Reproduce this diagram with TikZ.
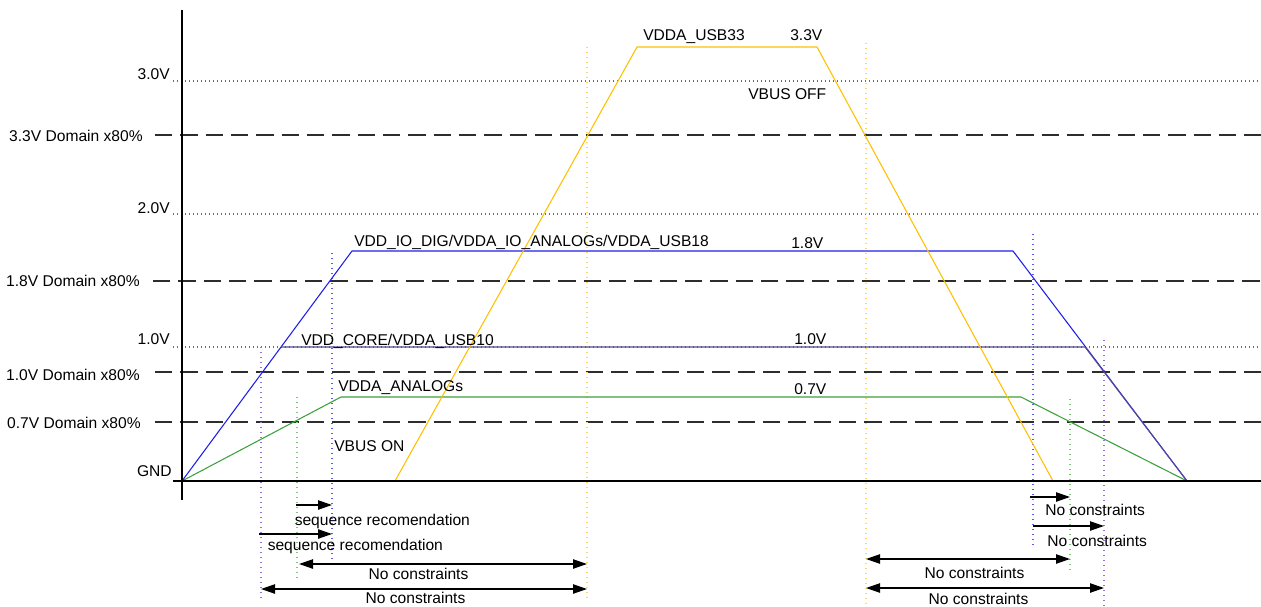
\documentclass[tikz,border=0pt]{standalone}
\usepackage{fontspec}
\setmainfont{Liberation Sans}
\usetikzlibrary{arrows.meta}
\definecolor{usbc}{RGB}{255,192,0}
\definecolor{ioc}{RGB}{30,30,235}
\definecolor{corec}{RGB}{85,75,145}
\definecolor{anac}{RGB}{60,160,60}
\definecolor{dashc}{RGB}{45,45,45}
\definecolor{dotc}{RGB}{110,110,110}
\definecolor{vpur}{RGB}{150,110,220}
\definecolor{vgrn}{RGB}{120,200,120}
\definecolor{vblu}{RGB}{90,90,240}
\definecolor{vgold}{RGB}{255,215,90}
\begin{document}
\begin{tikzpicture}[x=0.75pt,y=-0.75pt,
  font=\fontsize{11.7}{14}\selectfont,
  lbl/.style={inner sep=0pt, anchor=base west},
  rlbl/.style={inner sep=0pt, anchor=base east},
  clbl/.style={inner sep=0pt, anchor=base},
  domln/.style={dashc, line width=1pt, dash pattern=on 13pt off 6pt},
  refln/.style={dotc, line width=0.8pt, dash pattern=on 0.75pt off 2.25pt},
  vmark/.style={line width=0.8pt, dash pattern=on 0.75pt off 3pt},
  curve/.style={line width=0.8pt, line join=miter},
  arr/.style={line width=1pt, -{Triangle[length=10.5pt,width=7pt]}},
  darr/.style={line width=1pt, {Triangle[length=10.5pt,width=7pt]}-{Triangle[length=10.5pt,width=7pt]}}
]
\useasboundingbox (0,0) rectangle (1261,607);

% ---- reference level lines ----
\coordinate (l30a) at (173,81);  \coordinate (l30b) at (1261,81);
\coordinate (d33a) at (155,135); \coordinate (d33b) at (1261,135);
\coordinate (l20a) at (173,214); \coordinate (l20b) at (1261,214);
\coordinate (d18a) at (153,281); \coordinate (d18b) at (1261,281);
\coordinate (l10a) at (173,347); \coordinate (l10b) at (1261,347);
\coordinate (d10a) at (155,372); \coordinate (d10b) at (1261,372);
\coordinate (d07a) at (155,422); \coordinate (d07b) at (1261,422);
\draw[refln] (l30a) -- (l30b);
\draw[refln] (l20a) -- (l20b);
\draw[refln] (l10a) -- (l10b);
\draw[domln] (d33a) -- (d33b);
\draw[domln] (d18a) -- (d18b);
\draw[domln] (d10a) -- (d10b);
\draw[domln] (d07a) -- (d07b);

\node[rlbl] (t30) at (170,79) {3.0V};
\node[rlbl] (t33d) at (143,141.5) {3.3V Domain x80\%};
\node[rlbl] (t20) at (170,213) {2.0V};
\node[rlbl] (t18d) at (140,286.5) {1.8V Domain x80\%};
\node[rlbl] (t10) at (170,344) {1.0V};
\node[rlbl] (t10d) at (140,380.5) {1.0V Domain x80\%};
\node[rlbl] (t07d) at (141,428) {0.7V Domain x80\%};
\node[rlbl] (tgnd) at (172,476.5) {GND};

% ---- vertical timing markers ----
\coordinate (vp1a) at (261,347);  \coordinate (vp1b) at (261,598);
\coordinate (vg1a) at (297,397);  \coordinate (vg1b) at (297,581);
\coordinate (vb1a) at (332,253);  \coordinate (vb1b) at (332,560);
\coordinate (vy1a) at (587,47);   \coordinate (vy1b) at (587,599);
\coordinate (vy2a) at (866,43);   \coordinate (vy2b) at (866,607);
\coordinate (vb2a) at (1033,234); \coordinate (vb2b) at (1033,548);
\coordinate (vg2a) at (1070,399); \coordinate (vg2b) at (1070,573);
\coordinate (vp2a) at (1104,340); \coordinate (vp2b) at (1104,607);
\draw[vmark,vpur]  (vp1a) -- (vp1b);
\draw[vmark,vgrn]  (vg1a) -- (vg1b);
\draw[vmark,vblu]  (vb1a) -- (vb1b);
\draw[vmark,vgold] (vy1a) -- (vy1b);
\draw[vmark,vgold] (vy2a) -- (vy2b);
\draw[vmark,vblu]  (vb2a) -- (vb2b);
\draw[vmark,vgrn]  (vg2a) -- (vg2b);
\draw[vmark,vpur]  (vp2a) -- (vp2b);

% ---- supply curves ----
\coordinate (o0) at (182,481);
\coordinate (io1) at (352,251);  \coordinate (io2) at (1013,251); \coordinate (io3) at (1187,481);
\coordinate (co1) at (281,347);  \coordinate (co2) at (1085,347);
\coordinate (an1) at (341,397);  \coordinate (an2) at (1021,397);
\coordinate (us0) at (395,481);  \coordinate (us1) at (637,47); \coordinate (us2) at (817,47); \coordinate (us3) at (1053,481);

\draw[curve,anac] (o0) -- (an1) -- (an2) -- (io3);
\draw[curve,ioc]  (o0) -- (io1) -- (io2) -- (io3);
\draw[curve,corec] (co1) -- (co2) -- (io3);
\draw[curve,usbc] (us0) -- (us1) -- (us2) -- (us3);

% ---- axes ----
\coordinate (ya) at (182,10);  \coordinate (yb) at (182,500);
\coordinate (xa) at (173,481); \coordinate (xb) at (1261,481);
\draw[line width=1.1pt] (ya) -- (yb);
\draw[line width=1.1pt] (xa) -- (xb);

% ---- curve labels ----
\node[lbl] (nusb) at (643,40) {VDDA\_USB33};
\node[lbl] (v33) at (790,40) {3.3V};
\node[lbl] (voff) at (748,99) {VBUS OFF};
\node[lbl] (nio) at (354,246) {VDD\_IO\_DIG/VDDA\_IO\_ANALOGs/VDDA\_USB18};
\node[lbl] (v18) at (791,248) {1.8V};
\node[lbl] (ncore) at (301,345) {VDD\_CORE/VDDA\_USB10};
\node[lbl] (v10) at (794,344) {1.0V};
\node[lbl] (nana) at (338,391) {VDDA\_ANALOGs};
\node[lbl] (v07) at (794,394) {0.7V};
\node[lbl] (von) at (334,451.5) {VBUS ON};

% ---- timing arrows (left) ----
\coordinate (a1s) at (296,505);   \coordinate (a1e) at (332,505);
\coordinate (a2s) at (259,534);   \coordinate (a2e) at (332,534);
\coordinate (a3s) at (299,564);   \coordinate (a3e) at (587,564);
\coordinate (a4s) at (261,589);   \coordinate (a4e) at (587,589);
\draw[arr]  (a1s) -- (a1e);
\draw[arr]  (a2s) -- (a2e);
\draw[darr] (a3s) -- (a3e);
\draw[darr] (a4s) -- (a4e);
\node[lbl]  (s1) at (294.5,525.5) {sequence recomendation};
\node[lbl]  (s2) at (267.5,550) {sequence recomendation};
\node[clbl] (c1) at (418.5,579) {No constraints};
\node[clbl] (c2) at (415.5,603.5) {No constraints};

% ---- timing arrows (right) ----
\coordinate (b1s) at (1030,497);  \coordinate (b1e) at (1070,497);
\coordinate (b2s) at (1033,526);  \coordinate (b2e) at (1104,526);
\coordinate (b3s) at (866,559);   \coordinate (b3e) at (1070,559);
\coordinate (b4s) at (866,588);   \coordinate (b4e) at (1104,588);
\draw[arr]  (b1s) -- (b1e);
\draw[arr]  (b2s) -- (b2e);
\draw[darr] (b3s) -- (b3e);
\draw[darr] (b4s) -- (b4e);
\node[lbl]  (r1) at (1045,515) {No constraints};
\node[lbl]  (r2) at (1047,546) {No constraints};
\node[clbl] (r3) at (974.5,578) {No constraints};
\node[clbl] (r4) at (978.5,604.5) {No constraints};
\end{tikzpicture}
\end{document}
